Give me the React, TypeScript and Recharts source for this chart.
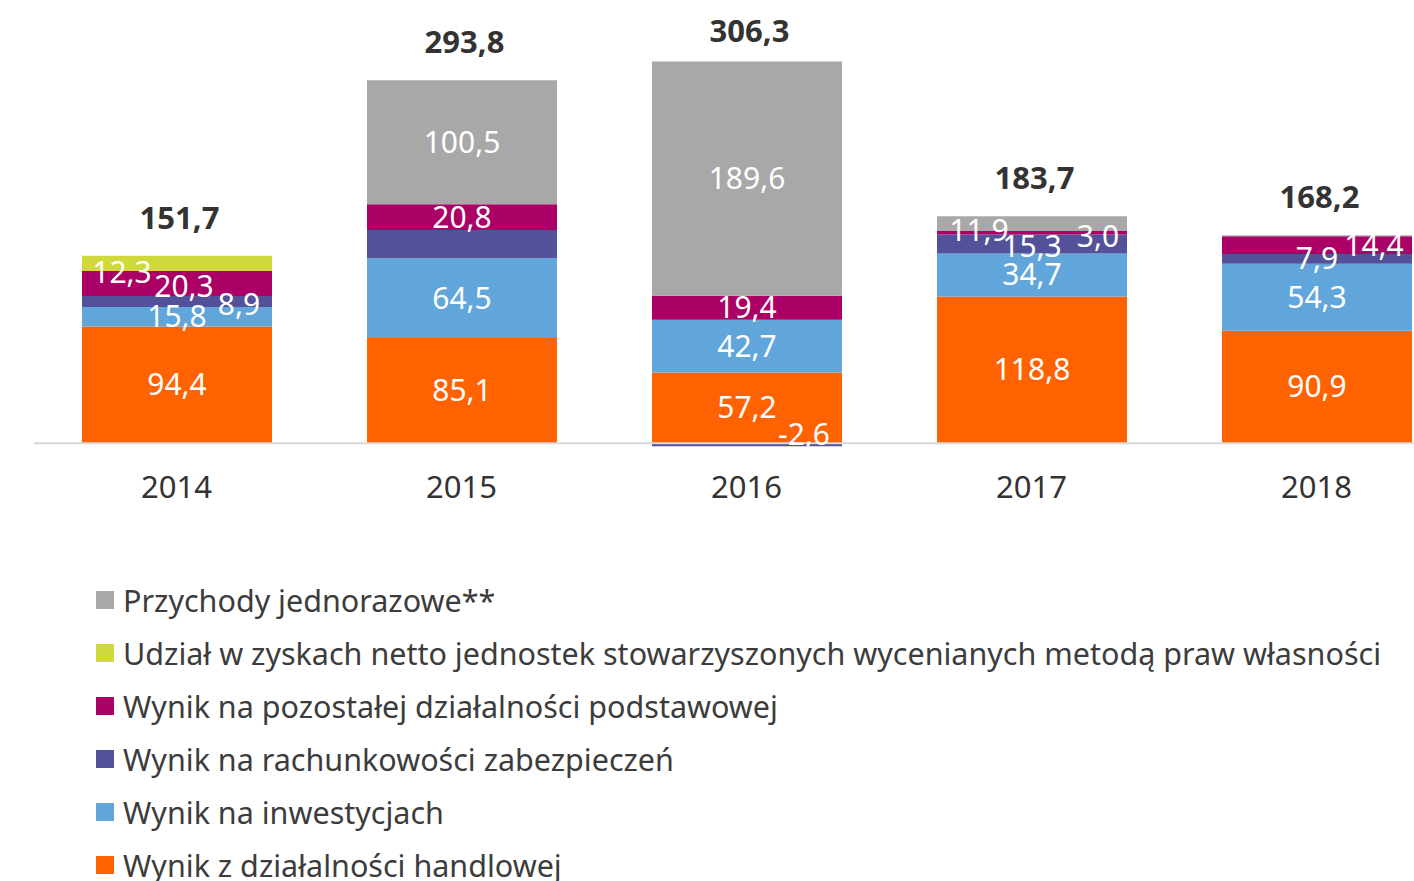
import React from 'react';
import { ComposedChart, Bar, Line, XAxis, YAxis, ReferenceLine, LabelList, Legend } from 'recharts';

// ---- data ----
const years = ['2014', '2015', '2016', '2017', '2018'];
const handlowa = [94.4, 85.1, 57.2, 118.8, 90.9];
const inwestycje = [15.8, 64.5, 42.7, 34.7, 54.3];
const zabezpieczenia = [8.9, 22.9, -2.6, 15.3, 7.9];
const pozostala = [20.3, 20.8, 19.4, 3.0, 14.4];
const udzial = [12.3, 0, 0, 0, 0];
const jednorazowe = [0, 100.5, 189.6, 11.9, 0.7];
const totals = [151.7, 293.8, 306.3, 183.7, 168.2];

const seriesNames: Record<string, string> = {
  jednorazowe: 'Przychody jednorazowe**',
  udzial: 'Udział w zyskach netto jednostek stowarzyszonych wycenianych metodą praw własności',
  pozostala: 'Wynik na pozostałej działalności podstawowej',
  zabezpieczenia: 'Wynik na rachunkowości zabezpieczeń',
  inwestycje: 'Wynik na inwestycjach',
  handlowa: 'Wynik z działalności handlowej',
};

const data = years.map((year, i) => ({
  year,
  handlowa: handlowa[i],
  inwestycje: inwestycje[i],
  zabezpieczenia: zabezpieczenia[i],
  pozostala: pozostala[i],
  udzial: udzial[i],
  jednorazowe: jednorazowe[i],
  total: totals[i],
}));

// ---- styles ----
const colors: Record<string, string> = {
  handlowa: '#FF6200',
  inwestycje: '#60A6DA',
  zabezpieczenia: '#525199',
  pozostala: '#AB0066',
  udzial: '#D0D93C',
  jednorazowe: '#A8A8A8',
};
const stackOrder = ['handlowa', 'inwestycje', 'zabezpieczenia', 'pozostala', 'udzial', 'jednorazowe'];
const legendOrder = ['jednorazowe', 'udzial', 'pozostala', 'zabezpieczenia', 'inwestycje', 'handlowa'];

// label offsets [dx, dy] per series per year
const labelOffsets: Record<string, Record<string, [number, number]>> = {
  zabezpieczenia: { '2014': [62, 3], '2016': [57, -10], '2017': [0, 2] },
  pozostala: { '2014': [7, 3], '2017': [66, 4], '2018': [57, 0] },
  udzial: { '2014': [-55, 9] },
  jednorazowe: { '2017': [-53, 7] },
};
const hiddenLabels: Record<string, string[]> = {
  zabezpieczenia: ['2015'],
  jednorazowe: ['2018'],
};
const totalDy: Record<string, number> = { '2016': -34 };

const FONT = "'Noto Sans', sans-serif";
const fmt = (v: number) => v.toFixed(1).replace('.', ',');

const makeLabel = (key: string) => (props: any) => {
  const { x, y, width, height, value } = props;
  if (typeof value !== 'string') return null;
  const [year, raw] = value.split('|');
  const v = Number(raw);
  if (!v) return null;
  if ((hiddenLabels[key] || []).includes(year)) return null;
  const off = (labelOffsets[key] || {})[year] || [0, 0];
  const cx = Number(x) + Number(width) / 2 + off[0];
  const cy = Number(y) + Number(height) / 2 + off[1];
  return (
    <text x={cx} y={cy + 10.5} fill="#ffffff" fontSize={30} fontFamily={FONT} textAnchor="middle">
      {fmt(v)}
    </text>
  );
};

const TotalLabel = (props: any) => {
  const { x, y, value } = props;
  if (typeof value !== 'string') return null;
  const [year, raw] = value.split('|');
  const dy = totalDy[year] ?? -38;
  return (
    <text x={Number(x) + 3} y={Number(y) + dy + 11} fill="#333333" fontSize={31} fontWeight="bold" fontFamily={FONT} textAnchor="middle">
      {fmt(Number(raw))}
    </text>
  );
};

const LegendContent = () => (
  <div style={{ fontFamily: FONT, fontSize: 30.5, color: '#3c3c3c' }}>
    {legendOrder.map((k) => (
      <div key={k} style={{ height: 53, display: 'flex', alignItems: 'center', whiteSpace: 'nowrap' }}>
        <span style={{ display: 'inline-block', width: 18, height: 18, background: colors[k], marginRight: 9, flex: 'none' }} />
        <span>{seriesNames[k]}</span>
      </div>
    ))}
  </div>
);

export default function App() {
  return (
    <div style={{ position: 'absolute', left: 0, top: 0, width: 1414, height: 881, overflow: 'hidden', background: '#fff' }}>
      <ComposedChart
        width={1470}
        height={900}
        data={data}
        stackOffset="sign"
        margin={{ top: 35.45, right: 11, left: 34, bottom: 8.5 }}
        style={{ fontFamily: FONT }}
      >
        <XAxis
          dataKey="year"
          axisLine={false}
          tickLine={false}
          tickSize={0}
          tickMargin={20}
          height={118}
          tick={{ fill: '#333333', fontSize: 31, fontFamily: FONT }}
          interval={0}
        />
        <YAxis hide domain={[-10, 330]} />
        <ReferenceLine y={0} stroke="#d9d9d9" strokeWidth={2} />
        {stackOrder.map((k) => (
          <Bar key={k} dataKey={k} stackId="a" fill={colors[k]} barSize={190} isAnimationActive={false}>
            <LabelList dataKey={(entry: any) => `${entry.year}|${entry[k]}`} content={makeLabel(k)} />
          </Bar>
        ))}
        <Line dataKey="total" stroke="none" dot={false} activeDot={false} isAnimationActive={false}>
          <LabelList dataKey={(entry: any) => `${entry.year}|${entry.total}`} content={TotalLabel} />
        </Line>
        <Legend verticalAlign="bottom" align="left" content={LegendContent} wrapperStyle={{ left: 96, width: 1318 }} />
      </ComposedChart>
    </div>
  );
}
